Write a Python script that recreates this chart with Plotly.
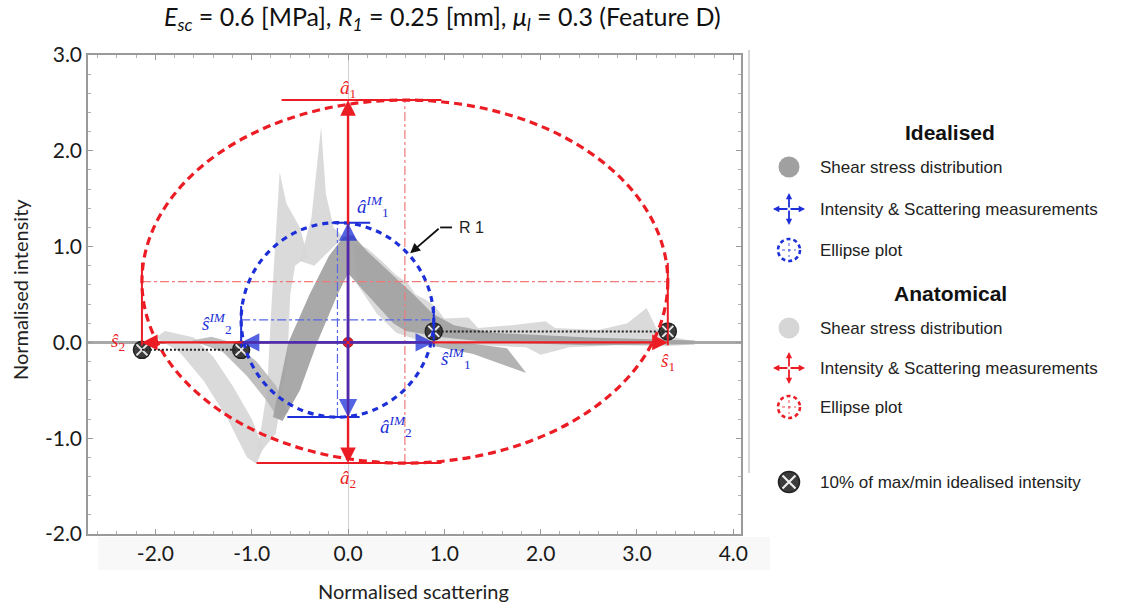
import plotly.graph_objects as go

W, H = 1138, 608

# ---- axes -------------------------------------------------------------
X_RANGE = [-2.70, 4.08]
Y_RANGE = [-2.0, 3.0]
X_TICKS = [-2, -1, 0, 1, 2, 3, 4]
X_TICK_TEXT = ["-2.0", "-1.0", "0.0", "1.0", "2.0", "3.0", "4.0"]
Y_TICKS = [-2, -1, 0, 1, 2, 3]
Y_TICK_TEXT = ["-2.0", "-1.0", "0.0", "1.0", "2.0", "3.0"]

# ---- measurements (normalised), [negative side, positive side] --------
ANAT_S = [-2.14, 3.32]      # s2, s1 (anatomical)
ANAT_A = [-1.26, 2.53]      # a2, a1 (anatomical)
IDEAL_S = [-1.11, 0.89]     # s2, s1 (idealised)
IDEAL_A = [-0.78, 1.25]     # a2, a1 (idealised)

# 10 % of min / max idealised intensity
TEN_PCT_LEVELS = [-0.078, 0.115]

# extents of the bar lines that close each measurement
ANAT_A1_BAR = [-0.69, 0.97]
ANAT_A2_BAR = [-0.95, 0.97]
IDEAL_A1_BAR = [-0.17, 0.23]
IDEAL_A2_BAR = [-0.63, 0.12]
ANAT_S_BAR = [-0.03, 0.83]
IDEAL_S_BAR = [-0.05, 0.38]

# ---- shear stress distribution outlines ------------------------------
ANAT_LOBE_X = [-2.0, -1.75, -1.5, -1.25, -1.05, -0.95, -0.88, -1.0, -1.2, -1.4, -1.6, -1.9]
ANAT_LOBE_Y = [0.05, -0.1, -0.4, -0.8, -1.2, -1.27, -1.1, -0.8, -0.45, -0.15, 0.05, 0.12]
ANAT_COLUMN_X = [-0.95, -0.84, -0.8, -0.76, -0.71, -0.64, -0.5, -0.42, -0.55, -0.6, -0.63, -0.75]
ANAT_COLUMN_Y = [-1.2, -0.5, 0.3, 1.0, 1.78, 1.45, 1.2, 0.9, 0.8, 0.5, -0.2, -0.95]
ANAT_SPIKE_X = [-0.5, -0.38, -0.28, -0.23, -0.15, -0.05, -0.2, -0.35]
ANAT_SPIKE_Y = [0.85, 1.3, 2.25, 1.55, 1.2, 1.1, 0.95, 0.8]
ANAT_TAIL_X = [0.05, 0.2, 0.35, 0.5, 0.62, 0.7, 0.8, 0.9, 1.0, 1.25, 1.35, 1.7, 2.05, 2.15,
               2.6, 2.9, 3.1, 3.2, 3.4, 3.6, 3.6, 3.3, 2.8, 2.3, 2.0, 1.85, 1.4, 1.0, 0.8,
               0.5, 0.3, 0.1]
ANAT_TAIL_Y = [1.05, 0.98, 0.85, 0.7, 0.62, 0.5, 0.45, 0.38, 0.25, 0.26, 0.15, 0.18, 0.22, 0.15,
               0.13, 0.2, 0.36, 0.15, 0.05, 0.01, -0.02, -0.04, -0.03, -0.05, -0.13, -0.05, -0.03,
               -0.02, 0.0, 0.1, 0.3, 0.6]

IDEAL_ARM_X = [-1.62, -1.3, -1.05, -0.85, -0.72, -0.62, -0.75, -0.95, -1.2, -1.42]
IDEAL_ARM_Y = [0.02, -0.1, -0.35, -0.6, -0.8, -0.72, -0.45, -0.2, 0.0, 0.06]
IDEAL_RIBBON_X = [-0.78, -0.62, -0.4, -0.2, -0.05, 0.05, 0.2, 0.45, 0.68, 0.88, 1.1, 1.5, 2.5, 3.6,
                  3.6, 2.5, 1.5, 1.0, 0.6, 0.47, 0.2, 0.0, -0.11, -0.32, -0.5, -0.68]
IDEAL_RIBBON_Y = [-0.78, 0.0, 0.5, 0.9, 1.1, 1.12, 0.95, 0.72, 0.5, 0.3, 0.18, 0.1, 0.05, 0.02,
                  -0.02, -0.03, 0.0, 0.05, 0.12, 0.2, 0.5, 0.72, 0.5, 0.0, -0.5, -0.82]
IDEAL_WEDGE_X = [0.8, 1.3, 1.85, 1.65, 1.2]
IDEAL_WEDGE_Y = [-0.02, -0.12, -0.32, -0.06, 0.0]

# ---- legend ------------------------------------------------------------
LEGEND_GROUPS = ["Idealised", "Anatomical"]
LEGEND_ITEMS = ["Shear stress distribution", "Intensity & Scattering measurements", "Ellipse plot"]
LEGEND_MARKER_NOTE = "10% of max/min idealised intensity"

RED = "#ec1c24"
RED_LIGHT = "#f07a7a"
BLUE = "#1c2fd8"
BLUE_LIGHT = "#5666e6"
GRAY_IDEAL = "#a0a0a0"
GRAY_ANAT = "#d6d6d6"
MARK_DARK = "#3c3c3c"

fig = go.Figure()


def region(xs, ys, color, opacity):
    fig.add_trace(go.Scatter(x=xs, y=ys, mode="lines", fill="toself", fillcolor=color,
                             line=dict(width=0, color=color), opacity=opacity,
                             hoverinfo="skip", showlegend=False))


for xs, ys in [(ANAT_LOBE_X, ANAT_LOBE_Y), (ANAT_COLUMN_X, ANAT_COLUMN_Y),
               (ANAT_SPIKE_X, ANAT_SPIKE_Y), (ANAT_TAIL_X, ANAT_TAIL_Y)]:
    region(xs, ys, GRAY_ANAT, 0.9)
region(IDEAL_ARM_X, IDEAL_ARM_Y, "#b4b4b4", 0.85)
region(IDEAL_RIBBON_X, IDEAL_RIBBON_Y, GRAY_IDEAL, 0.9)
region(IDEAL_WEDGE_X, IDEAL_WEDGE_Y, GRAY_IDEAL, 0.8)

shapes = []


def line(x0, y0, x1, y1, color, width, dash="solid", xref="x", yref="y"):
    shapes.append(dict(type="line", xref=xref, yref=yref, x0=x0, y0=y0, x1=x1, y1=y1,
                       line=dict(color=color, width=width, dash=dash)))


def measurement_frame(s, a, a1_bar, a2_bar, s_bar, col, col_light, dash):
    cx = (s[0] + s[1]) / 2
    cy = (a[0] + a[1]) / 2
    # centre lines of the ellipse
    line(s[0], cy, s[1], cy, col_light, 1.2, "dashdot")
    line(cx, a[0], cx, a[1], col_light, 1.2, "dashdot")
    # bars closing each measurement
    line(a1_bar[0], a[1], a1_bar[1], a[1], col, 2)
    line(a2_bar[0], a[0], a2_bar[1], a[0], col, 2)
    for sx in s:
        line(sx, s_bar[0], sx, s_bar[1], col, 2)
    # ellipse through the four extremes
    shapes.append(dict(type="circle", xref="x", yref="y", x0=s[0], x1=s[1], y0=a[0], y1=a[1],
                       line=dict(color=col, width=3.2, dash=dash)))


measurement_frame(ANAT_S, ANAT_A, ANAT_A1_BAR, ANAT_A2_BAR, ANAT_S_BAR, RED, RED_LIGHT, "8px,5px")
measurement_frame(IDEAL_S, IDEAL_A, IDEAL_A1_BAR, IDEAL_A2_BAR, IDEAL_S_BAR, BLUE, BLUE_LIGHT, "6px,5px")

# dotted connectors between the 10 % markers
line(ANAT_S[0], TEN_PCT_LEVELS[0], IDEAL_S[0], TEN_PCT_LEVELS[0], "#222222", 2, "2px,2px")
line(IDEAL_S[1], TEN_PCT_LEVELS[1], ANAT_S[1], TEN_PCT_LEVELS[1], "#222222", 2, "2px,2px")

annotations = []


def arrow(x, y, ax, ay, col, width, opacity=1.0, ref=("x", "y"), head=2, size=1.3):
    annotations.append(dict(x=x, y=y, ax=ax, ay=ay, xref=ref[0], yref=ref[1], axref=ref[0],
                            ayref=ref[1], text="", showarrow=True, arrowhead=head,
                            arrowsize=size, arrowwidth=width, arrowcolor=col,
                            opacity=opacity, standoff=0, startstandoff=0))


# measurement arrows from the origin
for tip in [(ANAT_S[1], 0), (ANAT_S[0], 0), (0, ANAT_A[1]), (0, ANAT_A[0])]:
    arrow(tip[0], tip[1], 0, 0, RED, 2.4)
for tip in [(IDEAL_S[1], 0), (IDEAL_S[0], 0), (0, IDEAL_A[1]), (0, IDEAL_A[0])]:
    arrow(tip[0], tip[1], 0, 0, BLUE, 2.8, opacity=0.75)

# 10 % markers
marker_x = [ANAT_S[0], IDEAL_S[0], IDEAL_S[1], ANAT_S[1]]
marker_y = [TEN_PCT_LEVELS[0], TEN_PCT_LEVELS[0], TEN_PCT_LEVELS[1], TEN_PCT_LEVELS[1]]
fig.add_trace(go.Scatter(x=marker_x, y=marker_y, mode="markers", showlegend=False, hoverinfo="skip",
                         marker=dict(symbol="circle", size=17, color=MARK_DARK,
                                     line=dict(color="#222222", width=1.5))))
fig.add_trace(go.Scatter(x=marker_x, y=marker_y, mode="markers", showlegend=False, hoverinfo="skip",
                         marker=dict(symbol="x-thin", size=11, line=dict(color="#e8e8e8", width=2))))

# origin
fig.add_trace(go.Scatter(x=[0], y=[0], mode="markers", showlegend=False, hoverinfo="skip",
                         marker=dict(size=10, color=RED, line=dict(color="#a0101a", width=1))))

SERIF = "Liberation Serif"


def label(x, y, text, col, size=19, xanchor="center", yanchor="middle"):
    annotations.append(dict(x=x, y=y, xref="x", yref="y", text=text, showarrow=False,
                            font=dict(family=SERIF, size=size, color=col),
                            xanchor=xanchor, yanchor=yanchor))


label(0, ANAT_A[1] + 0.12, "<i>â</i><sub>1</sub>", RED)
label(0, ANAT_A[0] - 0.17, "<i>â</i><sub>2</sub>", RED)
label(ANAT_S[0] - 0.25, 0.0, "<i>ŝ</i><sub>2</sub>", RED)
label(ANAT_S[1], -0.2, "<i>ŝ</i><sub>1</sub>", RED)
label(0.26, IDEAL_A[1] + 0.17, "<i>â<sup>IM</sup></i><sub>1</sub>", BLUE)
label(-1.36, 0.2, "<i>ŝ<sup>IM</sup></i><sub>2</sub>", BLUE)
label(1.12, -0.17, "<i>ŝ<sup>IM</sup></i><sub>1</sub>", BLUE)
label(0.5, IDEAL_A[0] - 0.1, "<i>â<sup>IM</sup></i><sub>2</sub>", BLUE)

# region callout
line(1.08, 1.2, 0.956, 1.2, "#111111", 1.8)
arrow(0.645, 0.93, 0.956, 1.2, "#111111", 1.8, head=2, size=1.1)
annotations.append(dict(x=1.13, y=1.2, xref="x", yref="y", text="R 1", showarrow=False,
                        xanchor="left", yanchor="middle",
                        font=dict(family="Liberation Sans", size=16, color="#222222")))

# ---- page furniture in pixel coordinates ------------------------------
PX = ("x2", "y2")
# light band behind the scattering tick labels (page coordinates, below everything)
shapes.append(dict(type="rect", xref="paper", yref="paper", x0=98 / W, x1=770 / W,
                   y0=(H - 570) / H, y1=(H - 537) / H,
                   fillcolor="#f8f8f8", line=dict(width=0), layer="below"))
line(749, 50, 749, 473, "#c9c9c9", 1.5, xref="x2", yref="y2")

TEXT_FONT = "Lato"
annotations.append(dict(x=442, y=18, xref="x2", yref="y2", showarrow=False,
                        text="<i>E</i><sub><i>sc</i></sub> = 0.6 [MPa], <i>R</i><sub><i>1</i></sub> = 0.25 [mm], "
                             "<i>μ</i><sub><i>l</i></sub> = 0.3 (Feature D)",
                        font=dict(family=TEXT_FONT, size=25, color="#111111")))
annotations.append(dict(x=413, y=591, xref="x2", yref="y2", showarrow=False,
                        text="Normalised scattering",
                        font=dict(family=TEXT_FONT, size=20, color="#222222")))
annotations.append(dict(x=20, y=290, xref="x2", yref="y2", showarrow=False, textangle=-90,
                        text="Normalised intensity",
                        font=dict(family=TEXT_FONT, size=20, color="#222222")))

# legend
LEG_FONT = "Liberation Sans"
ICON_X, TEXT_X = 789, 818
group_rows = [(132, [167, 209, 250], BLUE, GRAY_IDEAL),
              (293, [328, 368, 407], RED, GRAY_ANAT)]
for name, (hy, rows, col, gray) in zip(LEGEND_GROUPS, group_rows):
    annotations.append(dict(x=950, y=hy, xref="x2", yref="y2", showarrow=False,
                            text="<b>" + name + "</b>",
                            font=dict(family=LEG_FONT, size=21, color="#111111")))
    for item, ry in zip(LEGEND_ITEMS, rows):
        annotations.append(dict(x=TEXT_X, y=ry, xref="x2", yref="y2", showarrow=False,
                                xanchor="left", text=item,
                                font=dict(family=LEG_FONT, size=17, color="#222222")))
    # distribution swatch
    fig.add_trace(go.Scatter(x=[ICON_X], y=[rows[0]], xaxis="x2", yaxis="y2", mode="markers",
                             showlegend=False, hoverinfo="skip",
                             marker=dict(size=21, color=gray)))
    # measurement cross
    cy = rows[1]
    for dx, dy in [(16, 0), (-16, 0), (0, 16), (0, -16)]:
        arrow(ICON_X + dx, cy + dy, ICON_X, cy, col, 1.8, ref=PX, size=0.7)
    # ellipse swatch
    ey = rows[2]
    shapes.append(dict(type="circle", xref="x2", yref="y2", x0=ICON_X - 11, x1=ICON_X + 11,
                       y0=ey - 11, y1=ey + 11, line=dict(color=col, width=2.6, dash="4px,3px")))
    line(ICON_X - 7, ey, ICON_X + 7, ey, col, 0.8, "dot", xref="x2", yref="y2")
    line(ICON_X, ey - 7, ICON_X, ey + 7, col, 0.8, "dot", xref="x2", yref="y2")

fig.add_trace(go.Scatter(x=[ICON_X], y=[482], xaxis="x2", yaxis="y2", mode="markers",
                         showlegend=False, hoverinfo="skip",
                         marker=dict(size=21, color=MARK_DARK, line=dict(color="#222222", width=1.5))))
fig.add_trace(go.Scatter(x=[ICON_X], y=[482], xaxis="x2", yaxis="y2", mode="markers",
                         showlegend=False, hoverinfo="skip",
                         marker=dict(symbol="x-thin", size=13, line=dict(color="#eeeeee", width=2.2))))
annotations.append(dict(x=TEXT_X, y=482, xref="x2", yref="y2", showarrow=False, xanchor="left",
                        text=LEGEND_MARKER_NOTE,
                        font=dict(family=LEG_FONT, size=17, color="#222222")))

AXIS_COL = "#9a9a9a"
common_axis = dict(showline=True, linecolor=AXIS_COL, linewidth=1.5, mirror="ticks",
                   ticks="inside", ticklen=5, tickcolor=AXIS_COL, tickwidth=1,
                   showgrid=False, tickfont=dict(family=TEXT_FONT, size=21, color="#1a1a1a"),
                   minor=dict(ticks="inside", ticklen=3, dtick=0.2, tick0=0, tickcolor="#b0b0b0",
                              showgrid=False))

fig.update_layout(
    width=W, height=H, margin=dict(l=0, r=0, t=0, b=0, autoexpand=False),
    paper_bgcolor="white", plot_bgcolor="rgba(0,0,0,0)",
    showlegend=False,
    xaxis=dict(range=X_RANGE, domain=[88 / W, 741 / W], tickmode="array", tickvals=X_TICKS,
               ticktext=X_TICK_TEXT, zeroline=True, zerolinecolor="#d0d0d0", zerolinewidth=1,
               anchor="y", **common_axis),
    yaxis=dict(range=Y_RANGE, domain=[(H - 534) / H, (H - 55) / H], tickmode="array",
               tickvals=Y_TICKS, ticktext=Y_TICK_TEXT, zeroline=True, zerolinecolor="#a8a8a8",
               zerolinewidth=2.5, anchor="x", **common_axis),
    xaxis2=dict(range=[0, W], domain=[0, 1], visible=False, anchor="y2", fixedrange=True),
    yaxis2=dict(range=[H, 0], domain=[0, 1], visible=False, anchor="x2", fixedrange=True),
    shapes=shapes,
    annotations=annotations,
)

fig.write_html("out.html")
